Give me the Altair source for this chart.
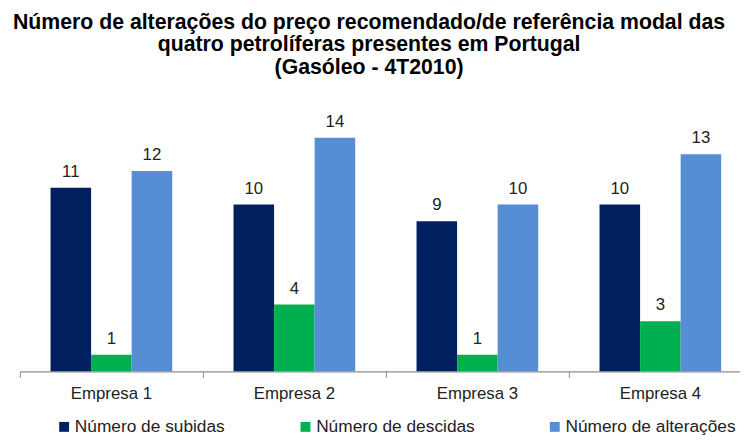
import altair as alt
import pandas as pd

empresas = ["Empresa 1", "Empresa 2", "Empresa 3", "Empresa 4"]
series = ["Número de subidas", "Número de descidas", "Número de alterações"]
subidas = [11, 10, 9, 10]
descidas = [1, 4, 1, 3]
alteracoes = [12, 14, 10, 13]
colors = ["#002060", "#00B050", "#558ED5"]

rows = []
for i, e in enumerate(empresas):
    for s, vals in zip(series, [subidas, descidas, alteracoes]):
        rows.append({"Empresa": e, "Serie": s, "Valor": vals[i]})
df = pd.DataFrame(rows)

FONT = "Liberation Sans"

x = alt.X(
    "Empresa:N",
    sort=empresas,
    scale=alt.Scale(paddingInner=0, paddingOuter=0, range=[0, 740]),
    axis=alt.Axis(
        title=None, labelAngle=0, bandPosition=0,
        labelFontSize=17, labelFont=FONT, labelColor="#222222", labelPadding=8,
        domainColor="#8c8c8c", tickColor="#8c8c8c", tickSize=6,
        domainWidth=1.2, tickWidth=1, grid=False,
    ),
)
xo = alt.XOffset("Serie:N", sort=series,
                 scale=alt.Scale(paddingOuter=0.756, paddingInner=0))
y = alt.Y("Valor:Q", scale=alt.Scale(domain=[0, 16]), axis=None)
color = alt.Color(
    "Serie:N", sort=series,
    scale=alt.Scale(domain=series, range=colors),
    legend=alt.Legend(
        title=None, orient="none", direction="horizontal",
        legendX=36, legendY=317, symbolType="square", symbolSize=100,
        symbolStrokeWidth=0, labelFontSize=17.5, labelFont=FONT,
        labelColor="#222222", columnPadding=72, labelLimit=0,
        labelOffset=2,
    ),
)

base = alt.Chart(df).encode(x=x, xOffset=xo, y=y)
bars = base.mark_bar().encode(color=color)
labels = base.mark_text(baseline="alphabetic", dy=-11, fontSize=17, font=FONT,
                        color="#222222").encode(text="Valor:Q")

chart = (
    alt.layer(bars, labels)
    .properties(
        width=728, height=270,
        autosize=alt.AutoSizeParams(type="none"),
        padding={"left": 12, "top": 95, "right": 0, "bottom": 62},
        title=alt.TitleParams(
            text=["Número de alterações do preço recomendado/de referência modal das",
                  "quatro petrolíferas presentes em Portugal",
                  "(Gasóleo - 4T2010)"],
            fontSize=21.5, font=FONT, fontWeight="bold", anchor="middle",
            lineHeight=23, offset=26, dx=-11, color="#000000",
        ),
    )
    .configure_view(stroke=None)
)

chart.save("out.html", embed_options={"renderer": "svg", "actions": False})
